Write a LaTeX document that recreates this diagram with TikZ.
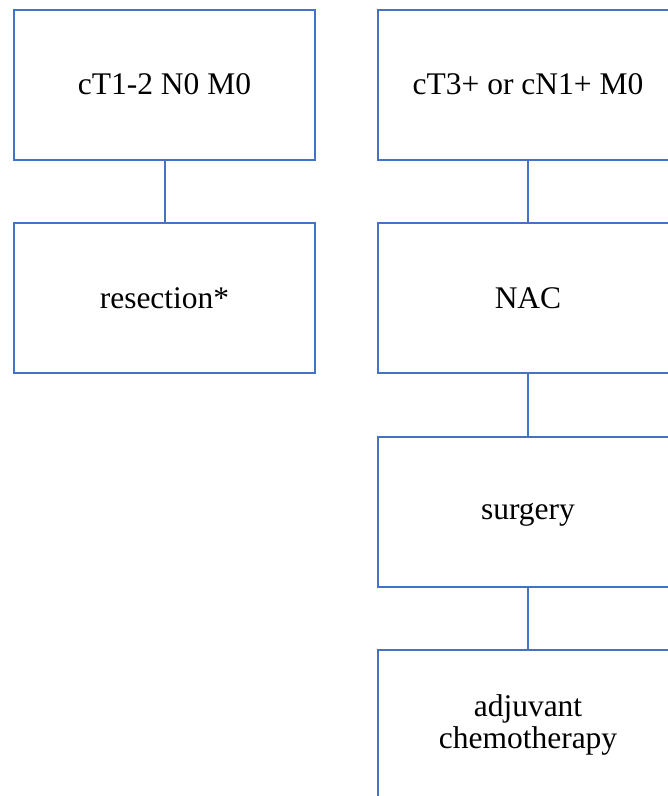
\documentclass[tikz,border=0pt]{standalone}
\usepackage{fontspec}
\setmainfont{Liberation Serif}
\definecolor{boxblue}{HTML}{4472C4}
\begin{document}
\begin{tikzpicture}[x=1pt,y=-1pt,
  stagebox/.style={draw=boxblue, line width=2pt, minimum width=301pt,
    minimum height=150pt, inner sep=0pt, align=center,
    font=\fontsize{31.5pt}{31.6pt}\selectfont},
  link/.style={draw=boxblue, line width=2pt}]
  \useasboundingbox (0,0) rectangle (668,796);
  \clip (0,0) rectangle (668,796);
  % early stage path
  \node[stagebox] (early)  at (164.5,84.5) {cT1-2 N0 M0};
  \node[stagebox] (resect) at (164.5,298)  {resection*};
  % advanced stage path
  \node[stagebox] (adv)    at (528,84.5)   {cT3+ or cN1+ M0};
  \node[stagebox] (nac)    at (528,298)    {NAC};
  \node[stagebox, text depth=0pt] (surg) at (528,511.5) {surgery};
  \node[stagebox] (adj)    at (528,725)    {adjuvant\\chemotherapy};
  \draw[link] (early) -- (resect);
  \draw[link] (adv) -- (nac);
  \draw[link] (nac) -- (surg);
  \draw[link] (surg) -- (adj);
\end{tikzpicture}
\end{document}
